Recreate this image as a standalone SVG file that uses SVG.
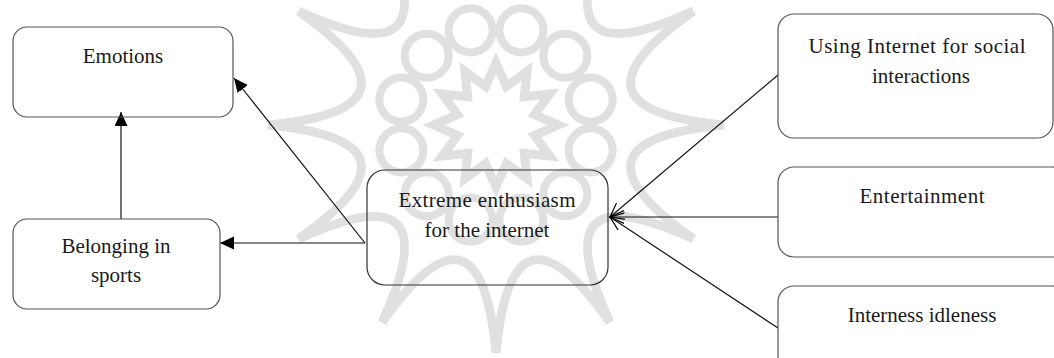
<svg xmlns="http://www.w3.org/2000/svg" xmlns:xlink="http://www.w3.org/1999/xlink" width="1054" height="358" viewBox="0 0 1054 358">
<style>
.box{fill:none;stroke:#555;stroke-width:1.2}
.cbox{fill:none;stroke:#333;stroke-width:1.2}
.lbl{font-family:'Liberation Serif','DejaVu Serif',serif;font-size:21px;fill:#1a1a1a;text-anchor:middle}
.conn{stroke:#111;stroke-width:1.2;fill:none}
.wm{fill:none;stroke:#e0e0e0}
</style>
<defs>
<marker id="solid" markerUnits="userSpaceOnUse" markerWidth="16" markerHeight="14" refX="14" refY="6.5" orient="auto">
<path d="M0,0 L14,6.5 L0,13 Z" fill="#000"/>
</marker>
<marker id="open" markerUnits="userSpaceOnUse" markerWidth="16" markerHeight="14" refX="14" refY="6.5" orient="auto">
<path d="M0,0 L14,6.5 L0,13" fill="none" stroke="#000" stroke-width="1.2"/>
</marker>
<path id="wmArc" d="M0,-228 Q15.5,-58 114,-197.5"/>
<circle id="wmCirc" cx="0" cy="-98" r="22"/>
</defs>
<rect width="1054" height="358" fill="#fff"/>
<g id="watermark" class="wm" transform="translate(496,125)">
<g stroke-width="9">
<use xlink:href="#wmArc"/><use xlink:href="#wmArc" transform="rotate(30)"/><use xlink:href="#wmArc" transform="rotate(60)"/><use xlink:href="#wmArc" transform="rotate(90)"/><use xlink:href="#wmArc" transform="rotate(120)"/><use xlink:href="#wmArc" transform="rotate(150)"/><use xlink:href="#wmArc" transform="rotate(180)"/><use xlink:href="#wmArc" transform="rotate(210)"/><use xlink:href="#wmArc" transform="rotate(240)"/><use xlink:href="#wmArc" transform="rotate(270)"/><use xlink:href="#wmArc" transform="rotate(300)"/><use xlink:href="#wmArc" transform="rotate(330)"/>
</g>
<g stroke-width="8">
<use xlink:href="#wmCirc" transform="rotate(15)"/><use xlink:href="#wmCirc" transform="rotate(45)"/><use xlink:href="#wmCirc" transform="rotate(75)"/><use xlink:href="#wmCirc" transform="rotate(105)"/><use xlink:href="#wmCirc" transform="rotate(135)"/><use xlink:href="#wmCirc" transform="rotate(165)"/><use xlink:href="#wmCirc" transform="rotate(195)"/><use xlink:href="#wmCirc" transform="rotate(225)"/><use xlink:href="#wmCirc" transform="rotate(255)"/><use xlink:href="#wmCirc" transform="rotate(285)"/><use xlink:href="#wmCirc" transform="rotate(315)"/><use xlink:href="#wmCirc" transform="rotate(345)"/>
</g>
<polygon stroke-width="9" points="0,-62 10.4,-38.6 31,-53.7 28.3,-28.3 53.7,-31 38.6,-10.4 62,0 38.6,10.4 53.7,31 28.3,28.3 31,53.7 10.4,38.6 0,62 -10.4,38.6 -31,53.7 -28.3,28.3 -53.7,31 -38.6,10.4 -62,0 -38.6,-10.4 -53.7,-31 -28.3,-28.3 -31,-53.7 -10.4,-38.6"/>
</g>
<g id="connectors">
<line class="conn" x1="121" y1="219" x2="121" y2="112" marker-end="url(#solid)"/>
<line class="conn" x1="365" y1="243" x2="234" y2="78" marker-end="url(#solid)"/>
<line class="conn" x1="365" y1="243" x2="220" y2="243" marker-end="url(#solid)"/>
<line class="conn" x1="778" y1="75" x2="610" y2="217" marker-end="url(#open)"/>
<line class="conn" x1="778" y1="217" x2="610" y2="217" marker-end="url(#open)"/>
<line class="conn" x1="778" y1="328" x2="610" y2="217" marker-end="url(#open)"/>
</g>
<g id="emotions">
<rect class="box" x="13" y="27" width="220" height="90" rx="14"/>
<text class="lbl" x="123" y="63">Emotions</text>
</g>
<g id="belonging">
<rect class="box" x="13" y="219" width="207" height="90" rx="14"/>
<text class="lbl" x="116" y="253">Belonging in</text>
<text class="lbl" x="116" y="282">sports</text>
</g>
<g id="enthusiasm">
<rect class="cbox" x="367" y="170" width="241" height="115" rx="18"/>
<text class="lbl" x="487" y="207" textLength="177">Extreme enthusiasm</text>
<text class="lbl" x="487" y="237">for the internet</text>
</g>
<g id="social">
<rect class="box" x="778" y="14" width="275" height="124" rx="16"/>
<text class="lbl" x="917" y="53" textLength="217">Using Internet for social</text>
<text class="lbl" x="921" y="83">interactions</text>
</g>
<g id="entertainment">
<rect class="box" x="778" y="167" width="290" height="90" rx="16"/>
<text class="lbl" x="922" y="203" textLength="125">Entertainment</text>
</g>
<g id="idleness">
<rect class="box" x="778" y="286" width="290" height="90" rx="16"/>
<text class="lbl" x="922" y="322">Interness idleness</text>
</g>
</svg>
